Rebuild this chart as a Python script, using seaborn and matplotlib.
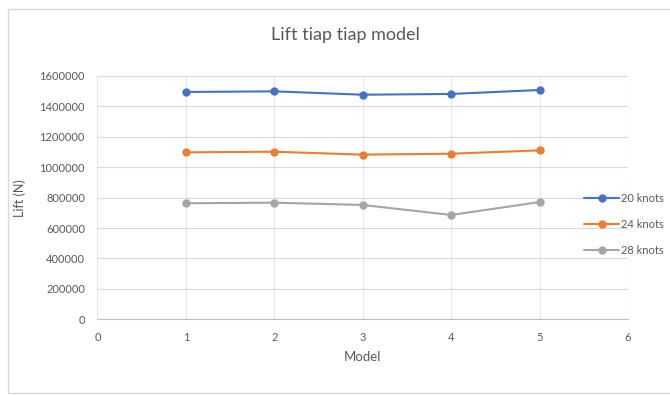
import matplotlib
matplotlib.use("Agg")
import matplotlib.pyplot as plt
import matplotlib.patches as mpatches
import seaborn as sns
import pandas as pd

models = [1, 2, 3, 4, 5]
lift_20_knots = [1495000, 1499000, 1477000, 1482000, 1508000]
lift_24_knots = [1098000, 1102000, 1083000, 1089000, 1111000]
lift_28_knots = [763000, 767000, 752000, 686000, 771000]
series_names = ["20 knots", "24 knots", "28 knots"]
y_ticks = [0, 200000, 400000, 600000, 800000, 1000000, 1200000, 1400000, 1600000]
x_ticks = [0, 1, 2, 3, 4, 5, 6]

rows = []
for name, vals in zip(series_names, [lift_20_knots, lift_24_knots, lift_28_knots]):
    for m, v in zip(models, vals):
        rows.append({"Model": m, "Lift": v, "Series": name})
df = pd.DataFrame(rows)

sns.set_theme(style="white")
plt.rcParams["font.family"] = ["Lato", "DejaVu Sans"]

text_color = "#595959"
palette = {"20 knots": "#4472C4", "24 knots": "#ED7D31", "28 knots": "#A5A5A5"}

fig = plt.figure(figsize=(6.7, 3.95), dpi=100)
ax = fig.add_axes([97.4 / 670, 1 - 319.3 / 395, (628 - 97.4) / 670, (319.3 - 76) / 395])

sns.lineplot(data=df, x="Model", y="Lift", hue="Series", palette=palette,
             marker="o", markersize=6, markeredgewidth=0, linewidth=1.5,
             ax=ax, legend=True)

ax.set_xlim(0, 6)
ax.set_ylim(0, 1600000)
ax.set_xticks(x_ticks)
ax.set_yticks(y_ticks)
ax.set_xticklabels([str(t) for t in x_ticks])
ax.set_yticklabels([str(t) for t in y_ticks])
ax.tick_params(axis="both", length=0, labelsize=8, colors=text_color)
ax.tick_params(axis="y", pad=9)
ax.tick_params(axis="x", pad=9)

ax.grid(True, axis="y", color="#d9d9d9", linewidth=0.8)
ax.grid(True, axis="x", color="#e8e8e8", linewidth=0.8)
ax.set_axisbelow(True)
for side in ["top", "right", "left"]:
    ax.spines[side].set_visible(False)
ax.spines["bottom"].set_color("#bfbfbf")
ax.spines["bottom"].set_linewidth(0.8)

ax.set_xlabel("Model", fontsize=9.5, color=text_color, labelpad=6)
ax.set_ylabel("Lift (N)", fontsize=9, color=text_color, labelpad=10)

handles, labels = ax.get_legend_handles_labels()
ax.legend(handles, labels, loc="center left", bbox_to_anchor=(580 / 670, 1 - 224 / 395),
          bbox_transform=fig.transFigure, frameon=False, fontsize=8,
          labelcolor=text_color, handlelength=3.1, handletextpad=0.2,
          labelspacing=1.35, borderaxespad=0)

fig.text(345 / 670, 1 - 35 / 395, "Lift tiap tiap model", ha="center", va="center",
         fontsize=13, color=text_color)

fig.patches.append(mpatches.Rectangle((8 / 670, 1 - 393 / 395), 1.0, (393 - 9) / 395,
                                      transform=fig.transFigure, fill=False,
                                      edgecolor="#d9d9d9", linewidth=1.0))

fig.savefig("out.png", dpi=100)
